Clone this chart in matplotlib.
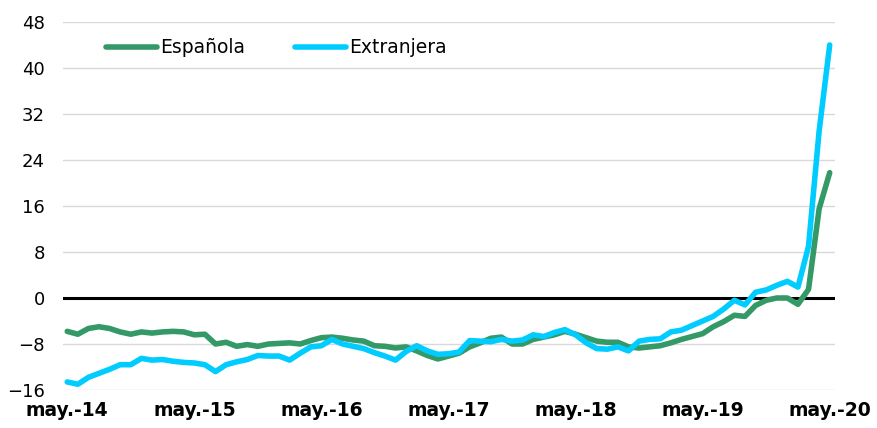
import matplotlib
matplotlib.use('Agg')
import matplotlib.pyplot as plt
import numpy as np

# monthly values, may-14 .. may-20
espanola = [-5.8, -6.3, -5.3, -5.0, -5.3, -5.9, -6.3, -5.9, -6.1, -5.9, -5.8, -5.9,
            -6.4, -6.3, -8.0, -7.7, -8.4, -8.1, -8.4, -8.0, -7.9, -7.8, -8.0, -7.4,
            -6.9, -6.8, -7.0, -7.3, -7.5, -8.3, -8.4, -8.7, -8.5, -9.2, -10.0, -10.6,
            -10.1, -9.6, -8.5, -7.8, -7.0, -6.8, -8.0, -8.0, -7.2, -6.8, -6.4, -5.8,
            -6.3, -6.9, -7.5, -7.7, -7.7, -8.5, -8.7, -8.5, -8.3, -7.8, -7.2, -6.7,
            -6.2, -5.0, -4.1, -3.0, -3.2, -1.3, -0.4, 0.0, 0.0, -1.1, 1.5, 15.5, 21.8]
extranjera = [-14.6, -15.0, -13.8, -13.1, -12.4, -11.6, -11.6, -10.5, -10.8, -10.7, -11.0, -11.2,
              -11.3, -11.6, -12.8, -11.6, -11.1, -10.7, -10.0, -10.1, -10.1, -10.8, -9.6, -8.5,
              -8.3, -7.2, -8.0, -8.4, -8.8, -9.5, -10.1, -10.8, -9.3, -8.3, -9.2, -9.8,
              -9.7, -9.4, -7.4, -7.5, -7.6, -7.2, -7.5, -7.3, -6.4, -6.7, -6.0, -5.5,
              -6.4, -7.8, -8.8, -8.9, -8.5, -9.2, -7.5, -7.2, -7.1, -5.9, -5.6, -4.8,
              -4.0, -3.2, -1.9, -0.4, -1.2, 1.0, 1.4, 2.2, 2.9, 1.9, 9.0, 29.0, 44.0]
tick_labels = ['may.-14', 'may.-15', 'may.-16', 'may.-17', 'may.-18', 'may.-19', 'may.-20']
yticks = [-16, -8, 0, 8, 16, 24, 32, 40, 48]

x = np.arange(len(espanola))

fig = plt.figure(figsize=(8.78, 4.28), dpi=100)
ax = fig.add_axes([63/878, 1 - 390/428, 772/878, 368/428])

for y in yticks:
    ax.axhline(y, color='#d9d9d9', lw=1, zorder=0)
ax.axhline(0, color='black', lw=2.2, zorder=1)

ax.plot(x, espanola, color='#339966', lw=4, solid_capstyle='round',
        solid_joinstyle='round', label='Española', zorder=2)
ax.plot(x, extranjera, color='#00ccff', lw=4, solid_capstyle='round',
        solid_joinstyle='round', label='Extranjera', zorder=3)

ax.set_xlim(-0.4, 72.5)
ax.set_ylim(-16, 48)
ax.set_yticks(yticks)
ax.set_xticks(np.arange(0, 73, 12))
ax.set_xticklabels(tick_labels, fontweight='bold', fontsize=13.5)
ax.tick_params(axis='y', length=0, pad=13, labelsize=13)
ax.tick_params(axis='x', length=0, pad=8)
for s in ax.spines.values():
    s.set_visible(False)

ax.legend(loc='center left', bbox_to_anchor=(0.056, 0.93), ncol=2, frameon=False,
          fontsize=13.5, handlelength=2.7, handletextpad=0.15, columnspacing=2.7,
          borderpad=0, borderaxespad=0)

fig.savefig('out.png', dpi=100)
